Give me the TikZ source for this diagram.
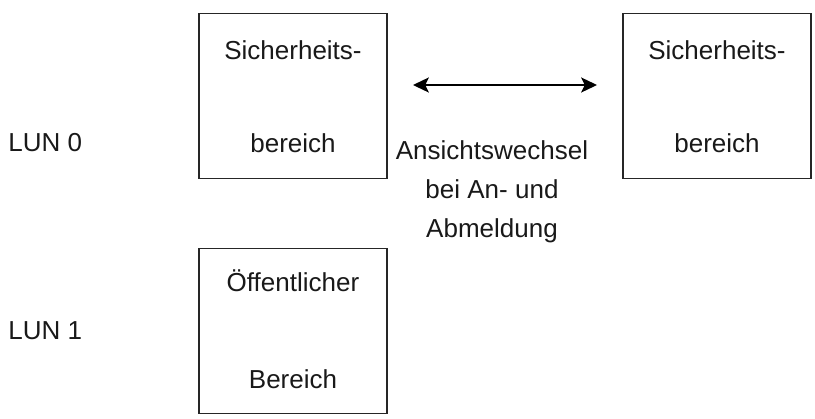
\documentclass[tikz,border=0pt]{standalone}
\usepackage{fontspec}
\setmainfont{Liberation Sans}
\usetikzlibrary{arrows.meta, positioning}

\begin{document}
\begin{tikzpicture}[
  areabox/.style={rectangle, minimum width=3.76cm, minimum height=3.3cm, draw=black!85, line width=1.1pt},
  lbl/.style={font=\fontsize{14.8}{18}\selectfont, text=black!90, anchor=base, inner sep=0pt}
]
\useasboundingbox (0,0) rectangle (16.3,-8.36);

% Bereiche
\node[areabox] (secA) at (5.86,-1.92) {};
\node[areabox] (secB) at (14.34,-1.92) {};
\node[areabox] (pub) at (5.86,-6.62) {};

% Text in den Kaesten
\node[lbl] (secAtop) at ([yshift=-0.93cm]secA.north) {Sicherheits-};
\node[lbl] (secAbot) at ([yshift=0.53cm]secA.south) {bereich};
\node[lbl] (secBtop) at ([yshift=-0.93cm]secB.north) {Sicherheits-};
\node[lbl] (secBbot) at ([yshift=0.53cm]secB.south) {bereich};
\node[lbl] (pubtop) at ([yshift=-0.88cm]pub.north) {Öffentlicher};
\node[lbl] (pubbot) at ([yshift=0.52cm]pub.south) {Bereich};

% LUNs
\node[lbl, anchor=base west] (lun0) at (0.16,-3.03) {LUN 0};
\node[lbl, anchor=base west] (lun1) at (0.16,-6.79) {LUN 1};

% Ansichtswechsel
\node[lbl] (swap1) at (9.84,-3.18) {Ansichtswechsel};
\node[lbl] (swap2) at ([yshift=-0.78cm]swap1.base) {bei An- und};
\node[lbl] (swap3) at ([yshift=-0.78cm]swap2.base) {Abmeldung};

% Pfeil
\draw[{Stealth[length=9pt,width=8.5pt,inset=2pt]}-{Stealth[length=9pt,width=8.5pt,inset=2pt]}, line width=1.3pt]
  ([xshift=0.5cm,yshift=0.22cm]secA.east) -- ([xshift=-0.5cm,yshift=0.22cm]secB.west);
\end{tikzpicture}
\end{document}
